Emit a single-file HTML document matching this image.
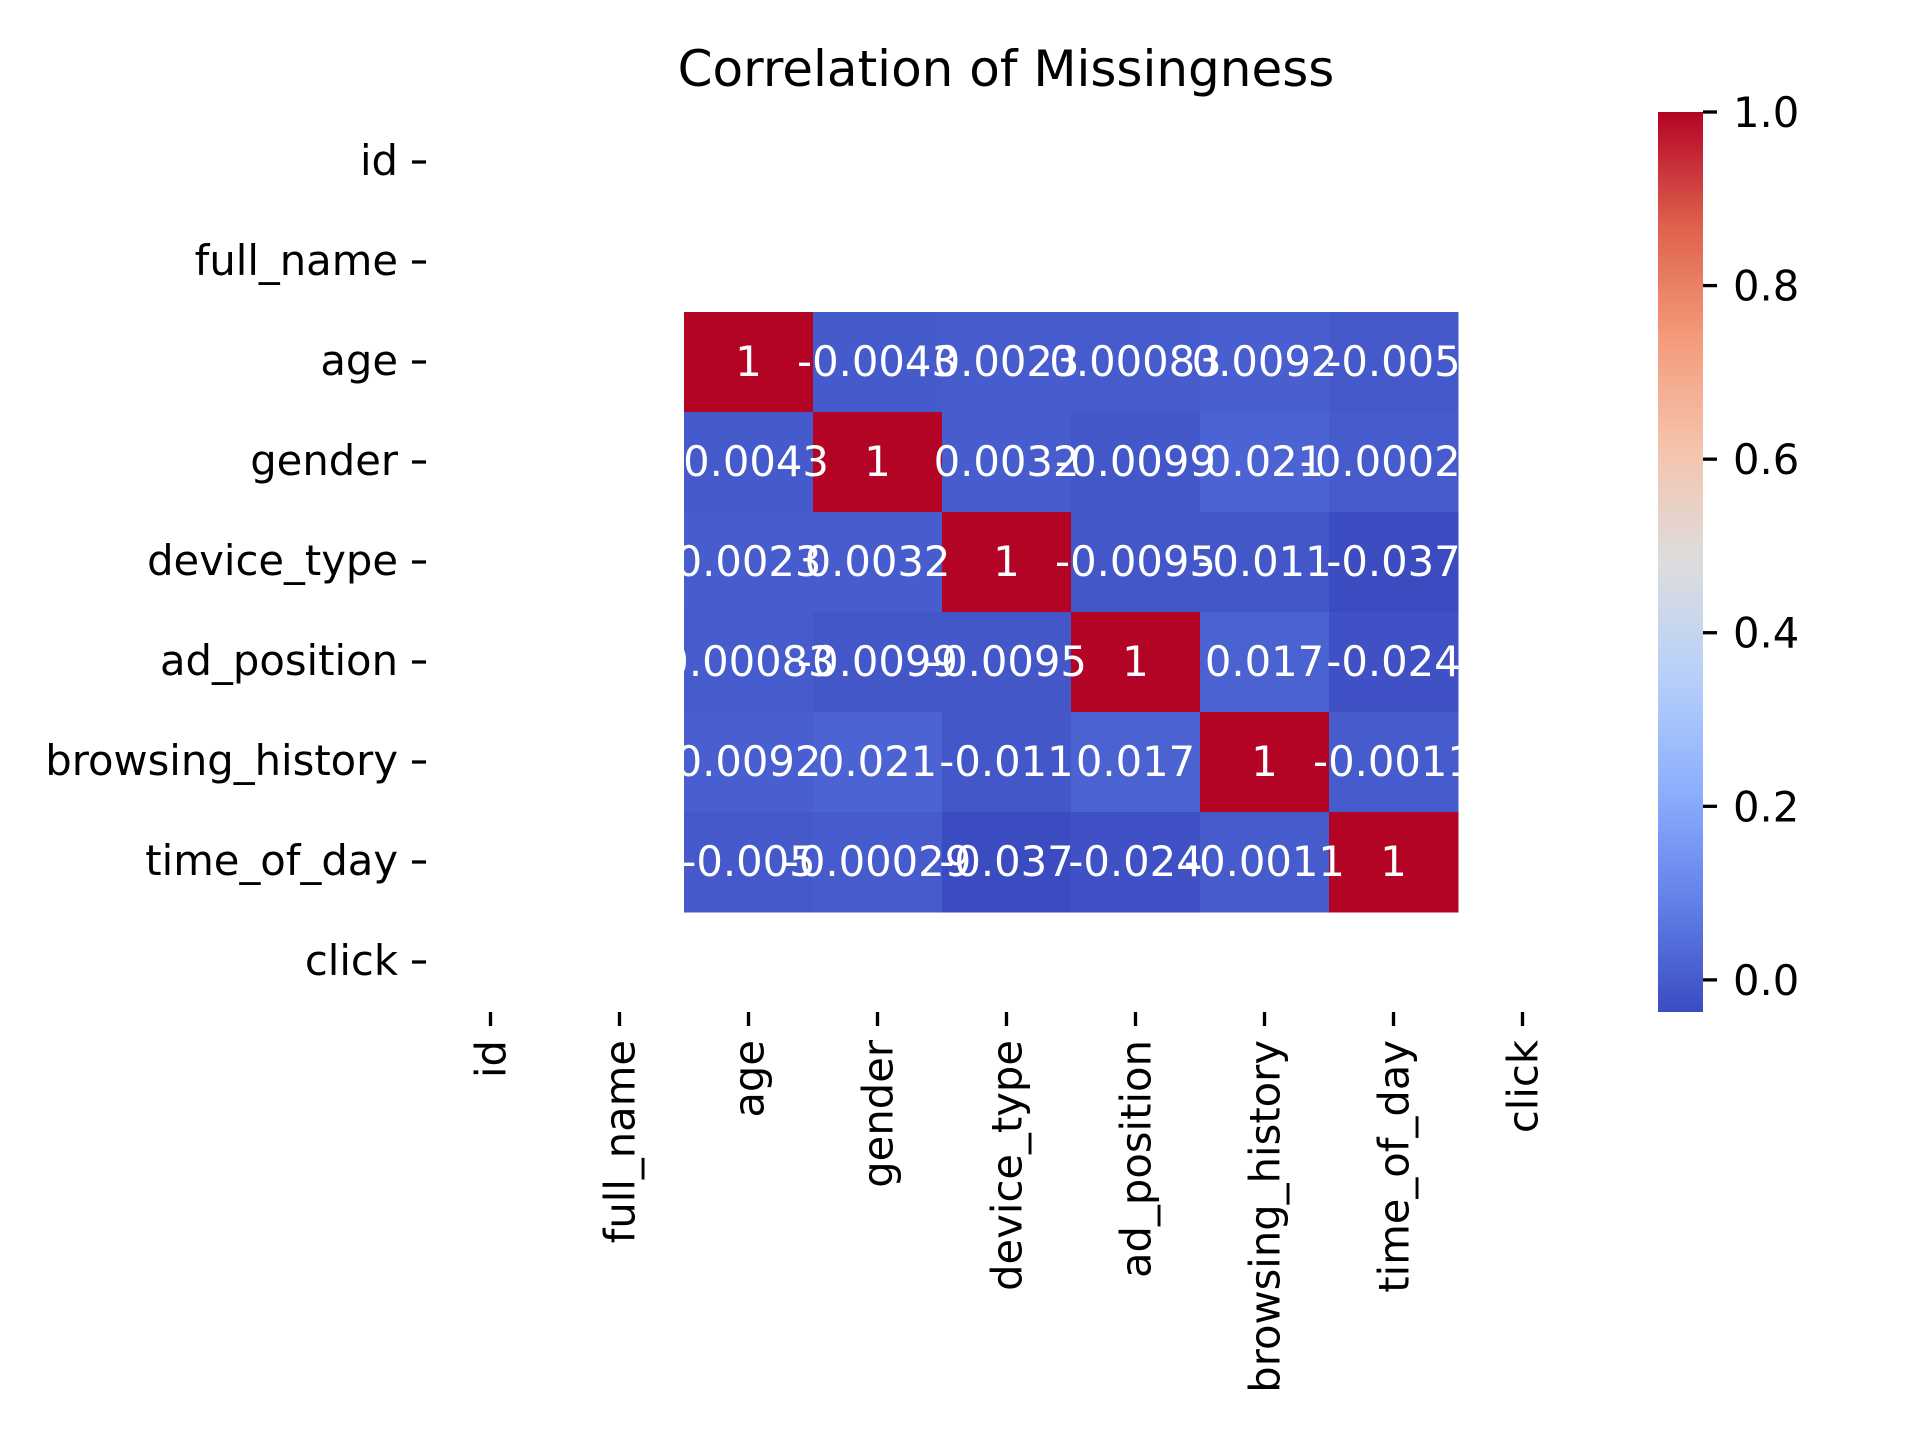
<!DOCTYPE html>
<html><head><meta charset="utf-8"><style>
html,body{margin:0;padding:0;background:#fff;}
svg{display:block;font-family:"DejaVu Sans","Liberation Sans",sans-serif;}
</style></head><body>
<svg id="chart" width="1920" height="1440" viewBox="0 0 1920 1440" xmlns="http://www.w3.org/2000/svg">
<defs>
<linearGradient id="cw" x1="0" y1="1" x2="0" y2="0">
<stop offset="0" stop-color="rgb(59,76,192)"/>
<stop offset="0.125" stop-color="rgb(98,130,234)"/>
<stop offset="0.25" stop-color="rgb(141,176,254)"/>
<stop offset="0.375" stop-color="rgb(184,208,249)"/>
<stop offset="0.5" stop-color="rgb(221,221,221)"/>
<stop offset="0.625" stop-color="rgb(245,196,173)"/>
<stop offset="0.75" stop-color="rgb(244,154,123)"/>
<stop offset="0.875" stop-color="rgb(222,96,77)"/>
<stop offset="1" stop-color="rgb(180,4,38)"/>
</linearGradient>
</defs>
<text x="1006" y="86" font-size="50" text-anchor="middle">Correlation of Missingness</text>
<g id="cells"></g>
<g id="ylabels"></g>
<g id="xlabels"></g>
<rect x="1658" y="112" width="45" height="900" fill="url(#cw)"/>
<g id="cbticks"></g>
</svg>
<script>
const labels = ["id","full_name","age","gender","device_type","ad_position","browsing_history","time_of_day","click"];
const rowId = [null,null,null,null,null,null,null,null,null];
const rowFullName = [null,null,null,null,null,null,null,null,null];
const rowAge = [null,null,1,-0.0043,0.0023,0.00083,0.0092,-0.005,null];
const rowGender = [null,null,-0.0043,1,0.0032,-0.0099,0.021,-0.00029,null];
const rowDevice = [null,null,0.0023,0.0032,1,-0.0095,-0.011,-0.037,null];
const rowAdPos = [null,null,0.00083,-0.0099,-0.0095,1,0.017,-0.024,null];
const rowBrowsing = [null,null,0.0092,0.021,-0.011,0.017,1,-0.0011,null];
const rowTime = [null,null,-0.005,-0.00029,-0.037,-0.024,-0.0011,1,null];
const rowClick = [null,null,null,null,null,null,null,null,null];
const matrix = [rowId,rowFullName,rowAge,rowGender,rowDevice,rowAdPos,rowBrowsing,rowTime,rowClick];
const cbTicks = [0.0,0.2,0.4,0.6,0.8,1.0];
const vmin = -0.037, vmax = 1.0;

const NS = "http://www.w3.org/2000/svg";
const X0 = 426, Y0 = 112, CW = 129, CH = 100;
const CBTOP = 112, CBBOT = 1012;
const xPos = i => X0 + i*CW;
const yPos = j => Y0 + j*CH;
const cbY = v => CBBOT - (v - vmin)/(vmax - vmin)*(CBBOT - CBTOP);
const stops = [[59,76,192],[98,130,234],[141,176,254],[184,208,249],[221,221,221],[245,196,173],[244,154,123],[222,96,77],[180,4,38]];
function cmap(v){
  let t = Math.max(0, Math.min(1, (v - vmin)/(vmax - vmin))) * 8;
  let i = Math.min(7, Math.floor(t)), f = t - i;
  const a = stops[i], b = stops[i+1];
  return "rgb(" + a.map((c,k)=>Math.round(c + (b[k]-c)*f)).join(",") + ")";
}
function mk(tag, attrs, parent){
  const e = document.createElementNS(NS, tag);
  for (const k in attrs) e.setAttribute(k, attrs[k]);
  parent.appendChild(e);
  return e;
}
const cells = document.getElementById("cells");
matrix.forEach((row, j) => {
  row.forEach((v, i) => {
    if (v === null) return;
    const r = mk("rect", {x: xPos(i), y: yPos(j), width: CW + 0.5, height: CH + 0.5, fill: cmap(v)}, cells);
    
    
  });
});
matrix.forEach((row, j) => {
  row.forEach((v, i) => {
    if (v === null) return;
    const t = mk("text", {x: xPos(i) + CW/2, y: yPos(j) + CH/2 + 14, "font-size": 41.7, fill: "#fff", "text-anchor": "middle"}, cells);
    t.textContent = String(Number(v.toPrecision(2)));
    
    
  });
});
const yl = document.getElementById("ylabels");
labels.forEach((lab, j) => {
  const cy = yPos(j) + CH/2;
  const tk = mk("line", {x1: 412, x2: 426, y1: cy, y2: cy, stroke: "#000", "stroke-width": 3.3}, yl);
  
  
  const t = mk("text", {x: 398, y: cy + 13, "font-size": 41.7, "text-anchor": "end"}, yl);
  t.textContent = lab;
  
  
});
const xl = document.getElementById("xlabels");
labels.forEach((lab, i) => {
  const cx = xPos(i) + CW/2;
  const tk = mk("line", {x1: cx, x2: cx, y1: 1012, y2: 1026, stroke: "#000", "stroke-width": 3.3}, xl);
  
  
  const t = mk("text", {x: 0, y: 0, "font-size": 41.7, "text-anchor": "end", transform: "translate(" + (cx + 15) + ",1040) rotate(-90)"}, xl);
  t.textContent = lab;
  
  
});
const cb = document.getElementById("cbticks");
cbTicks.forEach(v => {
  const y = cbY(v);
  const tk = mk("line", {x1: 1703, x2: 1717, y1: y, y2: y, stroke: "#000", "stroke-width": 3.3}, cb);
  
  
  const t = mk("text", {x: 1733, y: y + 15, "font-size": 41.7}, cb);
  t.textContent = v.toFixed(1);
  
  
});
</script>
</body></html>
